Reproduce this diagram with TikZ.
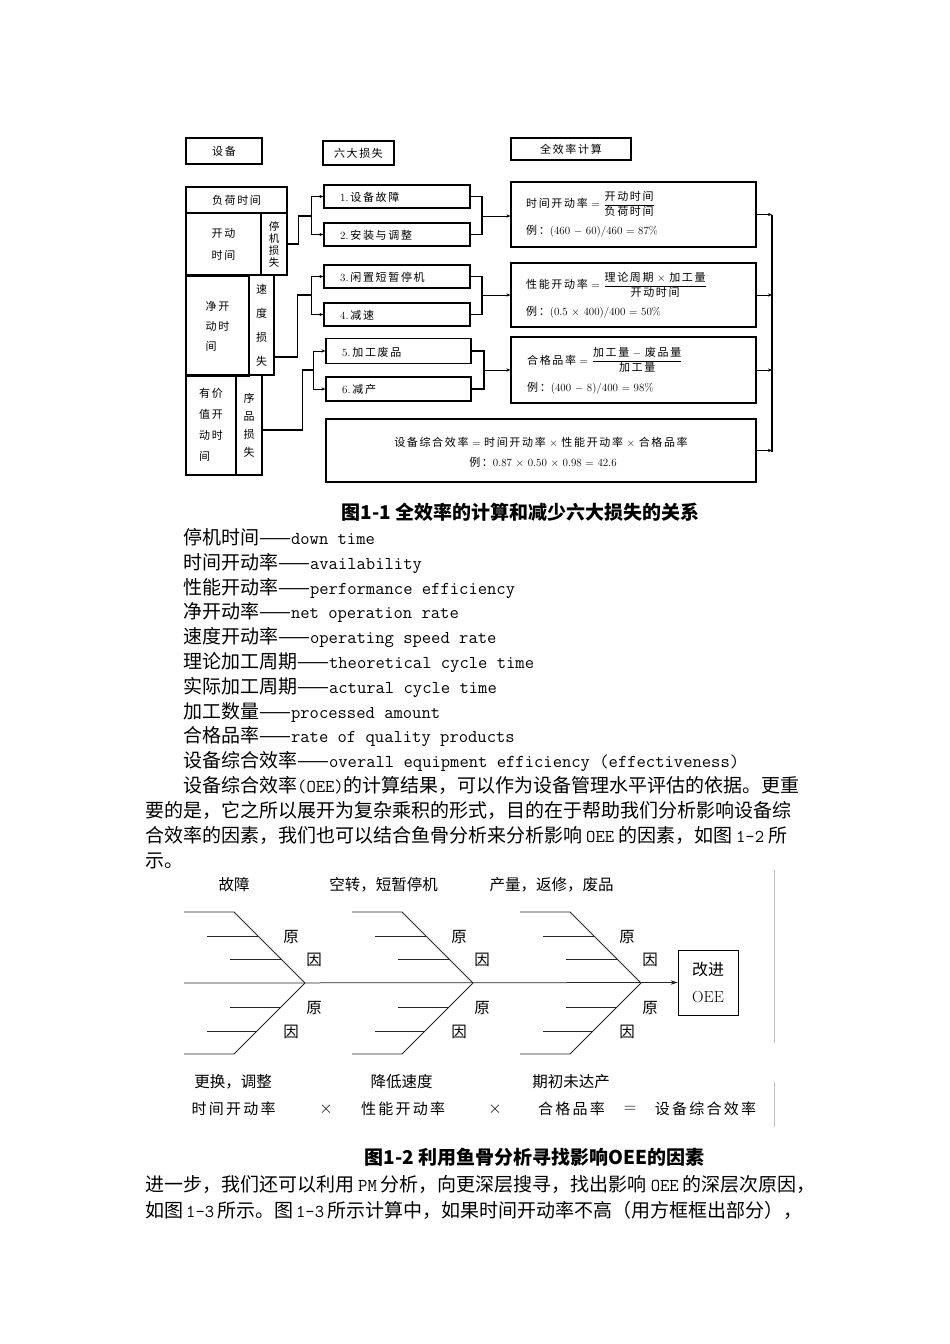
\documentclass[tikz,border=0pt]{standalone}
\usepackage{fontspec}
\newfontfamily\cjk{Noto Sans CJK SC}
\newfontfamily\cjkf[LetterSpace=15]{Noto Sans CJK SC}
\usetikzlibrary{arrows.meta}
\newcommand\myfs[1]{\fontsize{#1}{#1}\selectfont}
\newcommand\E[1]{{\fontsize{18.1}{19}\selectfont\ttfamily #1}}
\newcommand\C[1]{{\cjkf #1}}
\tikzset{
  cell/.style={draw, line width=1.2pt, inner sep=0pt, align=center, font={\cjk\fontsize{10.5}{12}\selectfont}},
  lbl/.style={inner sep=0pt, font={\rmfamily\myfs{11}}},
  conn/.style={line width=1.2pt},
  arr/.style={line width=1pt, -{Stealth[length=4pt,width=3.2pt]}},
  txt/.style={anchor=base west, inner sep=0pt, font={\cjk\myfs{19}}},
  bone/.style={line width=0.75pt, black!85},
  fl/.style={inner sep=0pt, font={\cjk\myfs{15.5}}},
}
\begin{document}
\begin{tikzpicture}[x=1pt,y=-1pt]
\fill[white] (0,0) rectangle (950,1344);
\useasboundingbox (0,0) rectangle (950,1344);

% ---------- Figure 1 headers
\node[cell, minimum width=76pt, minimum height=26pt, font={\cjkf\myfs{11}}] (sb) at (224,151) {设备};
\node[cell, minimum width=71pt, minimum height=24pt, font={\cjkf\myfs{11}}] (lb) at (358.5,153) {六大损失};
\node[cell, minimum width=120pt, minimum height=22pt, font={\cjkf\myfs{11}}] (qb) at (571,149) {全效率计算};

% ---------- left column
\node[cell, minimum width=101pt, minimum height=26pt, font={\cjkf\myfs{11}}] (fh) at (236.5,200) {负荷时间};
\node[cell, minimum width=75pt, minimum height=62pt, font={\cjkf\fontsize{11}{22}\selectfont}] (kd) at (223.5,244) {开动\\时间};
\node[cell, minimum width=26pt, minimum height=62pt] (tj) at (274,244) {停\\机\\损\\失};
\node[cell, minimum width=63pt, minimum height=100pt, align=left, font={\cjkf\fontsize{11}{20}\selectfont}] (jk) at (217.5,326) {净开\\动时\\间};
\node[cell, minimum width=25pt, minimum height=100pt, font={\cjk\fontsize{11}{24}\selectfont}] (sd) at (261.5,325) {速\\度\\损\\失};
\node[cell, minimum width=50pt, minimum height=100pt, align=left, font={\cjkf\fontsize{11}{21}\selectfont}] (yj) at (211,425) {有价\\值开\\动时\\间};
\node[cell, minimum width=26pt, minimum height=100pt, font={\cjk\fontsize{11}{18}\selectfont}] (xp) at (249,425) {序\\品\\损\\失};

% ---------- six losses
\node[cell, minimum width=146pt, minimum height=23pt] (b1) at (397,196.5) {};
\node[cell, minimum width=146pt, minimum height=23pt] (b2) at (397,234.5) {};
\node[cell, minimum width=146pt, minimum height=23pt] (b3) at (397,276.5) {};
\node[cell, minimum width=146pt, minimum height=23pt] (b4) at (397,314.5) {};
\node[cell, minimum width=145pt, minimum height=25pt] (b5) at (398.5,351) {};
\node[cell, minimum width=145pt, minimum height=24pt] (b6) at (398.5,389) {};
\node[lbl, anchor=west] (n1) at (340,197) {1.\,\C{设备故障}};
\node[lbl, anchor=west] (n2) at (340,235) {2.\,\C{安装与调整}};
\node[lbl, anchor=west] (n3) at (340,277) {3.\,\C{闲置短暂停机}};
\node[lbl, anchor=west] (n4) at (340,315) {4.\,\C{减速}};
\node[lbl, anchor=west] (n5) at (342,352) {5.\,\C{加工废品}};
\node[lbl, anchor=west] (n6) at (342,389) {6.\,\C{减产}};

% ---------- right boxes
\node[cell, minimum width=245pt, minimum height=65pt] (r1) at (633.5,214.5) {};
\node[cell, minimum width=245pt, minimum height=64pt] (r2) at (633.5,295) {};
\node[cell, minimum width=245pt, minimum height=66pt] (r3) at (633.5,370) {};
\node[cell, minimum width=430pt, minimum height=63pt] (r4) at (541,450.5) {};

\node[lbl, anchor=west] (r1a) at (526,204) {\C{时间开动率} $=$ $\displaystyle\frac{\mbox{\C{开动时间}}}{\mbox{\C{负荷时间}}}$};
\node[lbl, anchor=west] (r1b) at (526,231) {\C{例：}(460 $-$ 60)/460 $=$ 87\%};
\node[lbl, anchor=west] (r2a) at (526,285) {\C{性能开动率} $=$ $\displaystyle\frac{\mbox{\C{理论周期} $\times$ \C{加工量}}}{\mbox{\C{开动时间}}}$};
\node[lbl, anchor=west] (r2b) at (526,312) {\C{例：}(0.5 $\times$ 400)/400 $=$ 50\%};
\node[lbl, anchor=west] (r3a) at (527,360) {\C{合格品率} $=$ $\displaystyle\frac{\mbox{\C{加工量} $-$ \C{废品量}}}{\mbox{\C{加工量}}}$};
\node[lbl, anchor=west] (r3b) at (527,388) {\C{例：}(400 $-$ 8)/400 $=$ 98\%};
\node[lbl] (r4a) at (541,442) {\C{设备综合效率} $=$ \C{时间开动率} $\times$ \C{性能开动率} $\times$ \C{合格品率}};
\node[lbl] (r4b) at (543,462) {\C{例：}0.87 $\times$ 0.50 $\times$ 0.98 $=$ 42.6};

% ---------- connectors left -> losses
\coordinate (j12) at (311,216);
\draw[conn] (tj.east) -- ++(11,0) |- (j12);
\draw[arr] (j12) |- (b1.west);
\draw[arr] (j12) |- (b2.west);
\coordinate (j34) at (311,295);
\draw[conn] ([yshift=-32pt]sd.east) -- ++(23,0) |- (j34);
\draw[arr] (j34) |- (b3.west);
\draw[arr] (j34) |- (b4.west);
\coordinate (j56) at (313,370);
\draw[conn] ([yshift=-5pt]xp.east) -- ++(40,0) |- (j56);
\draw[arr] (j56) |- (b5.west);
\draw[arr] (j56) |- (b6.west);

% ---------- losses -> formulas
\coordinate (m12) at (482,216);
\draw[conn] (b1.east) -| (m12);
\draw[conn] (b2.east) -| (m12);
\draw[arr] (m12) -- (m12 -| r1.west);
\coordinate (m34) at (482,295);
\draw[conn] (b3.east) -| (m34);
\draw[conn] (b4.east) -| (m34);
\draw[arr] (m34) -- (m34 -| r2.west);
\coordinate (m56) at (484,370);
\draw[conn] (b5.east) -| (m56);
\draw[conn] (b6.east) -| (m56);
\draw[arr] (m56) -- (m56 -| r3.west);

% ---------- collector on the right
\coordinate (v1) at (772,215);
\coordinate (v4) at (772,452);
\draw[conn] (v1) -- (v4);
\draw[arr] (r1.east) -- (r1.east -| v1);
\draw[arr] (r2.east) -- (r2.east -| v1);
\draw[arr] (r3.east) -- (r3.east -| v1);
\draw[arr] (r4.east) -- (r4.east -| v4);

% ---------- body text
\node[txt, anchor=base, font={\cjk\bfseries\myfs{19}}] (cap1) at (520.5,519) {图1-1 全效率的计算和减少六大损失的关系};
\node[txt] (g1) at (183,544) {停机时间——\E{down time}};
\node[txt] (g2) at (183,569) {时间开动率——\E{availability}};
\node[txt] (g3) at (183,594) {性能开动率——\E{performance efficiency}};
\node[txt] (g4) at (183,618.5) {净开动率——\E{net operation rate}};
\node[txt] (g5) at (183,643.4) {速度开动率——\E{operating speed rate}};
\node[txt] (g6) at (183,668.3) {理论加工周期——\E{theoretical cycle time}};
\node[txt] (g7) at (183,693.1) {实际加工周期——\E{actural cycle time}};
\node[txt] (g8) at (183,718) {加工数量——\E{processed amount}};
\node[txt] (g9) at (183,742.8) {合格品率——\E{rate of quality products}};
\node[txt] (g10) at (183,767.7) {设备综合效率——\E{overall equipment efficiency (effectiveness)}};
\node[txt] (p1) at (183,792.5) {设备综合效率\E{(OEE)}的计算结果，可以作为设备管理水平评估的依据。更重};
\node[txt] (p2) at (145,817.4) {要的是，它之所以展开为复杂乘积的形式，目的在于帮助我们分析影响设备综};
\node[txt] (p3) at (145,842.2) {合效率的因素，我们也可以结合鱼骨分析来分析影响\hspace{4pt}\E{OEE}\hspace{4pt}的因素，如图\hspace{4pt}\E{1-2}\hspace{4pt}所};
\node[txt] (p4) at (145,867) {示。};

% ---------- Figure 2 (fishbone)
\node[draw, line width=0.8pt, minimum width=60pt, minimum height=65pt, inner sep=0pt, align=center, font={\fontsize{16}{27}\selectfont}] (oee) at (708,982.5) {{\cjk 改进}\\OEE};
\coordinate (sp) at (184,983);
\draw[bone, -{Stealth[length=7pt,width=4.5pt]}] (sp) -- (oee.west);
\foreach \a in {305,473,641}{
  \draw[bone] (\a,983) -- (\a-71,912) -- (\a-121,912);
  \draw[bone] (\a,983) -- (\a-71,1054) -- (\a-121,1054);
  \draw[bone] (\a-98,936) -- (\a-47,936);
  \draw[bone] (\a-75,959) -- (\a-24,959);
  \draw[bone] (\a-75,1007) -- (\a-24,1007);
  \draw[bone] (\a-98,1031) -- (\a-48,1031);
  \node[fl] (ya\a) at (\a-14,937) {原};
  \node[fl] (yb\a) at (\a+9,960) {因};
  \node[fl] (yc\a) at (\a+9,1008) {原};
  \node[fl] (yd\a) at (\a-14,1032) {因};
}
\node[fl] (ft1) at (234,885) {故障};
\node[fl] (ft2) at (383.5,885) {空转，短暂停机};
\node[fl] (ft3) at (551.5,885) {产量，返修，废品};
\node[fl] (fb1) at (233,1082) {更换，调整};
\node[fl] (fb2) at (401.5,1082) {降低速度};
\node[fl] (fb3) at (571,1082) {期初未达产};
\node[fl, font={\cjkf\myfs{15}}] (fr1) at (233.5,1109) {时间开动率};
\node[fl, font={\myfs{17}}] (fx1) at (326,1109) {$\times$};
\node[fl, font={\cjkf\myfs{15}}] (fr2) at (403,1109) {性能开动率};
\node[fl, font={\myfs{17}}] (fx2) at (495,1109) {$\times$};
\node[fl, font={\cjkf\myfs{15}}] (fr3) at (571.5,1109) {合格品率};
\node[fl, font={\myfs{17}}] (fx3) at (630,1109) {$=$};
\node[fl, font={\cjkf\myfs{15}}] (fr4) at (705.5,1109) {设备综合效率};
\draw[gray!50, line width=0.8pt] (774,870) -- (774,1043);
\draw[gray!50, line width=0.8pt] (774,1082) -- (774,1127);

% ---------- body text after figure 2
\node[txt, anchor=base, font={\cjk\bfseries\myfs{19}}] (cap2) at (534.5,1164) {图1-2 利用鱼骨分析寻找影响OEE的因素};
\node[txt] (q1) at (145,1191) {进一步，我们还可以利用\hspace{4pt}\E{PM}\hspace{4pt}分析，向更深层搜寻，找出影响\hspace{4pt}\E{OEE}\hspace{4pt}的深层次原因，};
\node[txt] (q2) at (145,1217) {如图\hspace{3pt}\E{1-3}\hspace{3pt}所示。图\hspace{3pt}\E{1-3}\hspace{3pt}所示计算中，如果时间开动率不高（用方框框出部分），};
\end{tikzpicture}
\end{document}
